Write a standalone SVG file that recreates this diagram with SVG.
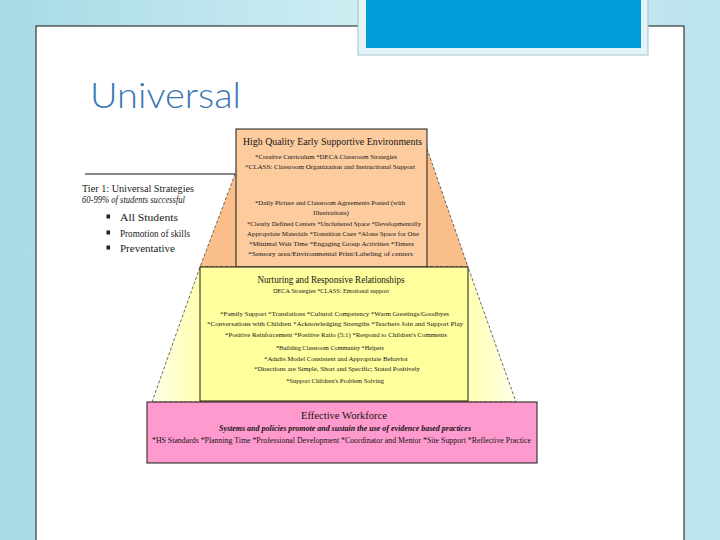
<svg xmlns="http://www.w3.org/2000/svg" width="720" height="540" viewBox="0 0 720 540">
<defs>
<linearGradient id="bg" x1="0" y1="0" x2="1" y2="0">
<stop offset="0" stop-color="#A6DAE6"/>
<stop offset="0.5" stop-color="#CFEDF3"/>
<stop offset="1" stop-color="#BCE4ED"/>
</linearGradient>
<linearGradient id="yel" gradientUnits="userSpaceOnUse" x1="152" y1="0" x2="516" y2="0">
<stop offset="0" stop-color="#FFFFE8"/>
<stop offset="0.14" stop-color="#FFFFAE"/>
<stop offset="0.86" stop-color="#FFFFAE"/>
<stop offset="1" stop-color="#FFFFE8"/>
</linearGradient>
<style>
.t{font-family:"Liberation Serif","Times New Roman",serif;fill:#151515;text-anchor:middle}
.s{font-size:7px}
.h{font-size:10px}
.l{font-family:"Liberation Serif","Times New Roman",serif;fill:#1a1a1a;font-size:9.5px}
.box{stroke:#1a1a1a;stroke-width:1}
.edge{stroke:#444;stroke-width:0.8;stroke-dasharray:3 2}
</style>
</defs>
<rect x="0" y="0" width="720" height="540" fill="url(#bg)"/>
<rect x="36" y="26" width="648" height="530" fill="#FFFFFF" stroke="#111" stroke-width="1"/>
<g id="header-block">
<rect x="358" y="-2" width="290" height="57" fill="#E3F3F7" stroke="#9FC4CF" stroke-width="1"/>
<rect x="366" y="0" width="275" height="48" fill="#009CD8"/>
</g>
<text x="90" y="108" font-family="Lato,'Open Sans','Liberation Sans',sans-serif" font-weight="300" font-size="36" fill="#3876B4" textLength="151" lengthAdjust="spacingAndGlyphs">Universal</text>

<g id="pyramid">
<polygon points="248,140 424,140 468,267 200,267" fill="#F9BE8A" class="edge"/>
<polygon points="200,267 468,267 516,402 152,402" fill="url(#yel)" class="edge"/>
</g>

<g id="node-environments">
<rect x="236" y="129" width="191" height="138" fill="#FCCB9E" class="box"/>
<text class="t" x="332.5" y="144.5" font-size="10.5" textLength="179" lengthAdjust="spacingAndGlyphs">High Quality Early Supportive Environments</text>
<text class="t s" x="326" y="159" textLength="142" lengthAdjust="spacingAndGlyphs">*Creative Curriculum *DECA Classroom Strategies</text>
<text class="t s" x="330" y="169" textLength="170" lengthAdjust="spacingAndGlyphs">*CLASS: Classroom Organization and Instructional Support</text>
<text class="t s" x="330" y="204.5" textLength="150" lengthAdjust="spacingAndGlyphs">*Daily Picture and Classroom Agreements Posted (with</text>
<text class="t s" x="331" y="215">Illustrations)</text>
<text class="t s" x="334" y="225.5" textLength="174" lengthAdjust="spacingAndGlyphs">*Clearly Defined Centers *Uncluttered Space *Developmentally</text>
<text class="t s" x="333" y="235.5" textLength="172" lengthAdjust="spacingAndGlyphs">Appropriate Materials *Transition Cues *Alone Space for One</text>
<text class="t s" x="331.5" y="245.5" textLength="165" lengthAdjust="spacingAndGlyphs">*Minimal Wait Time *Engaging Group Activities *Timers</text>
<text class="t s" x="330.5" y="256" textLength="165" lengthAdjust="spacingAndGlyphs">*Sensory area/Environmental Print/Labeling of centers</text>
</g>

<g id="node-relationships">
<rect x="200" y="267" width="268" height="134" fill="#FFFF9E" class="box"/>
<text class="t" x="331" y="282.5" font-size="10" textLength="147" lengthAdjust="spacingAndGlyphs">Nurturing and Responsive Relationships</text>
<text class="t s" x="331" y="292.5" textLength="116" lengthAdjust="spacingAndGlyphs">DECA Strategies *CLASS: Emotional support</text>
<text class="t s" x="334.5" y="316" textLength="229" lengthAdjust="spacingAndGlyphs">*Family Support *Translations *Cultural Competency *Warm Greetings/Goodbyes</text>
<text class="t s" x="335" y="326" textLength="256" lengthAdjust="spacingAndGlyphs">*Conversations with Children *Acknowledging Strengths *Teachers Join and Support Play</text>
<text class="t s" x="336" y="336.5" textLength="222" lengthAdjust="spacingAndGlyphs">*Positive Reinforcement *Positive Ratio (5:1) *Respond to Children's Comments</text>
<text class="t s" x="330" y="349.5" textLength="108" lengthAdjust="spacingAndGlyphs">*Building Classroom Community *Helpers</text>
<text class="t s" x="336" y="360.5" textLength="144" lengthAdjust="spacingAndGlyphs">*Adults Model Consistent and Appropriate Behavior</text>
<text class="t s" x="337" y="371" textLength="166" lengthAdjust="spacingAndGlyphs">*Directions are Simple, Short and Specific; Stated Positively</text>
<text class="t s" x="335" y="382.5" textLength="98" lengthAdjust="spacingAndGlyphs">*Support Children's Problem Solving</text>
</g>

<g id="node-workforce">
<rect x="147" y="402" width="390" height="61" fill="#FE9ACD" class="box"/>
<text class="t" x="344" y="418.5" font-size="10" textLength="86" lengthAdjust="spacingAndGlyphs">Effective Workforce</text>
<text class="t" x="345" y="430.5" font-size="7.5" font-weight="bold" font-style="italic" textLength="252" lengthAdjust="spacingAndGlyphs">Systems and policies promote and sustain the use of evidence based practices</text>
<text class="t" x="341.5" y="442.5" font-size="7.5" textLength="379" lengthAdjust="spacingAndGlyphs">*HS Standards *Planning Time *Professional Development *Coordinator and Mentor *Site Support *Reflective Practice</text>
</g>

<g id="node-tier1">
<text class="l" x="82" y="191.5" textLength="112" lengthAdjust="spacingAndGlyphs">Tier 1: Universal Strategies</text>
<text class="l" x="82" y="202.5" font-size="8.5" font-style="italic" textLength="103" lengthAdjust="spacingAndGlyphs">60-99% of students successful</text>
<rect x="106.5" y="214.5" width="3.5" height="4" fill="#222"/>
<rect x="106.5" y="230.5" width="3.5" height="4" fill="#222"/>
<rect x="106.5" y="245.5" width="3.5" height="4" fill="#222"/>
<text class="l" x="120" y="220.5" textLength="58" lengthAdjust="spacingAndGlyphs">All Students</text>
<text class="l" x="120" y="236.5" textLength="70" lengthAdjust="spacingAndGlyphs">Promotion of skills</text>
<text class="l" x="120" y="251.5" textLength="55" lengthAdjust="spacingAndGlyphs">Preventative</text>
</g>

<g id="connectors">
<line x1="85" y1="174" x2="235" y2="174" stroke="#111" stroke-width="1"/>
</g>
</svg>
